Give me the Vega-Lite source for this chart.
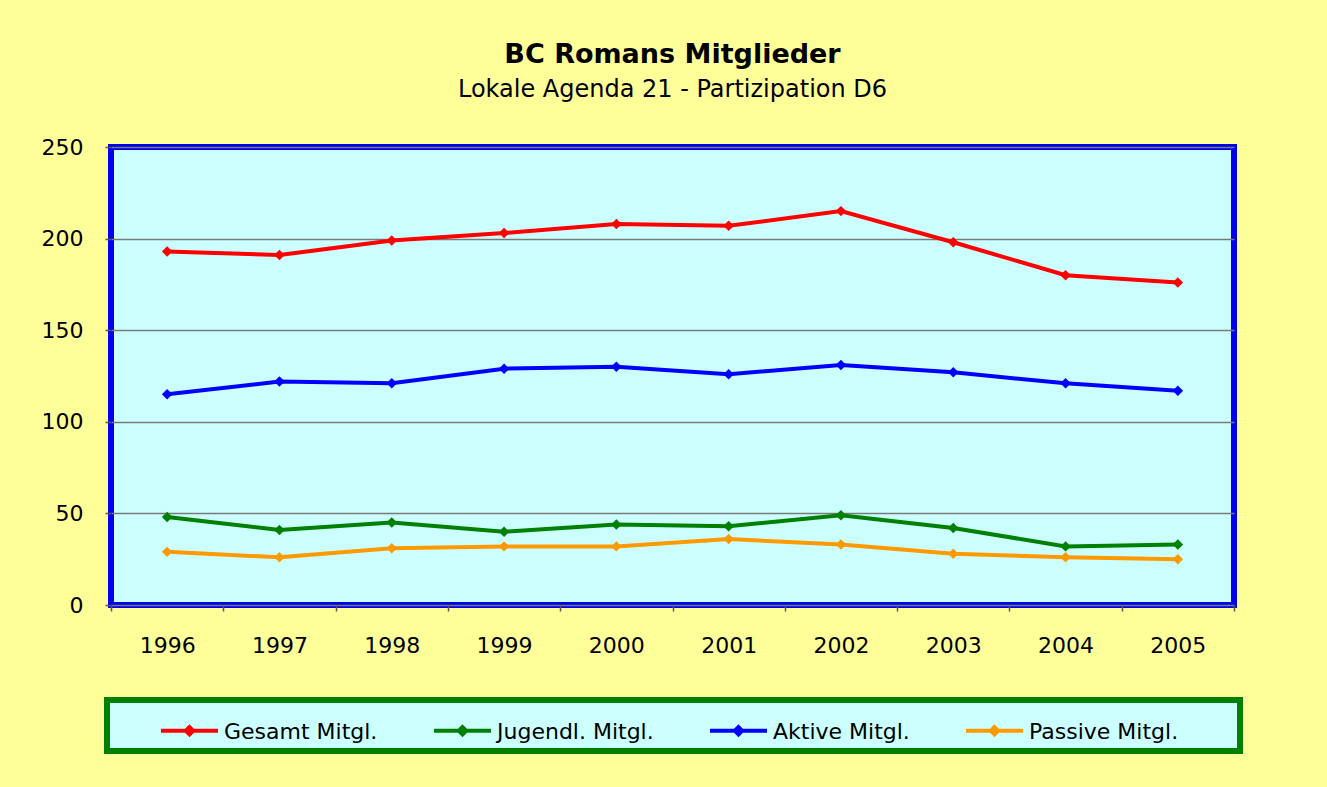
{
  "$schema": "https://vega.github.io/schema/vega-lite/v6.json",
  "autosize": {"type": "none"},
  "width": 1123,
  "height": 458,
  "padding": {"left": 111, "top": 147, "right": 93, "bottom": 182},
  "background": "#FFFF99",
  "title": {
    "text": "BC Romans Mitglieder",
    "subtitle": "Lokale Agenda 21 - Partizipation D6",
    "anchor": "middle",
    "font": "DejaVu Sans",
    "fontSize": 27,
    "fontWeight": "bold",
    "color": "#000000",
    "subtitleFont": "DejaVu Sans",
    "subtitleFontSize": 24,
    "subtitleColor": "#000000",
    "subtitlePadding": 9,
    "offset": 33
  },
  "config": {
    "view": {"fill": "#CCFFFF", "stroke": "#0000EE", "strokeWidth": 6},
    "axis": {
      "labelFont": "DejaVu Sans",
      "labelFontSize": 22,
      "labelColor": "#000000",
      "domain": false,
      "tickColor": "#555555",
      "tickWidth": 1.5,
      "tickSize": 6
    },
    "legend": {
      "labelFont": "DejaVu Sans",
      "labelFontSize": 22,
      "labelColor": "#000000",
      "strokeWidth": 6
    }
  },
  "data": {
    "values": [
      {"year": "1996", "series": "Gesamt Mitgl.", "value": 193},
      {"year": "1997", "series": "Gesamt Mitgl.", "value": 191},
      {"year": "1998", "series": "Gesamt Mitgl.", "value": 199},
      {"year": "1999", "series": "Gesamt Mitgl.", "value": 203},
      {"year": "2000", "series": "Gesamt Mitgl.", "value": 208},
      {"year": "2001", "series": "Gesamt Mitgl.", "value": 207},
      {"year": "2002", "series": "Gesamt Mitgl.", "value": 215},
      {"year": "2003", "series": "Gesamt Mitgl.", "value": 198},
      {"year": "2004", "series": "Gesamt Mitgl.", "value": 180},
      {"year": "2005", "series": "Gesamt Mitgl.", "value": 176},
      {"year": "1996", "series": "Jugendl. Mitgl.", "value": 48},
      {"year": "1997", "series": "Jugendl. Mitgl.", "value": 41},
      {"year": "1998", "series": "Jugendl. Mitgl.", "value": 45},
      {"year": "1999", "series": "Jugendl. Mitgl.", "value": 40},
      {"year": "2000", "series": "Jugendl. Mitgl.", "value": 44},
      {"year": "2001", "series": "Jugendl. Mitgl.", "value": 43},
      {"year": "2002", "series": "Jugendl. Mitgl.", "value": 49},
      {"year": "2003", "series": "Jugendl. Mitgl.", "value": 42},
      {"year": "2004", "series": "Jugendl. Mitgl.", "value": 32},
      {"year": "2005", "series": "Jugendl. Mitgl.", "value": 33},
      {"year": "1996", "series": "Aktive Mitgl.", "value": 115},
      {"year": "1997", "series": "Aktive Mitgl.", "value": 122},
      {"year": "1998", "series": "Aktive Mitgl.", "value": 121},
      {"year": "1999", "series": "Aktive Mitgl.", "value": 129},
      {"year": "2000", "series": "Aktive Mitgl.", "value": 130},
      {"year": "2001", "series": "Aktive Mitgl.", "value": 126},
      {"year": "2002", "series": "Aktive Mitgl.", "value": 131},
      {"year": "2003", "series": "Aktive Mitgl.", "value": 127},
      {"year": "2004", "series": "Aktive Mitgl.", "value": 121},
      {"year": "2005", "series": "Aktive Mitgl.", "value": 117},
      {"year": "1996", "series": "Passive Mitgl.", "value": 29},
      {"year": "1997", "series": "Passive Mitgl.", "value": 26},
      {"year": "1998", "series": "Passive Mitgl.", "value": 31},
      {"year": "1999", "series": "Passive Mitgl.", "value": 32},
      {"year": "2000", "series": "Passive Mitgl.", "value": 32},
      {"year": "2001", "series": "Passive Mitgl.", "value": 36},
      {"year": "2002", "series": "Passive Mitgl.", "value": 33},
      {"year": "2003", "series": "Passive Mitgl.", "value": 28},
      {"year": "2004", "series": "Passive Mitgl.", "value": 26},
      {"year": "2005", "series": "Passive Mitgl.", "value": 25}
    ]
  },
  "mark": {
    "type": "line",
    "strokeWidth": 4,
    "point": {"shape": "diamond", "size": 110, "filled": true}
  },
  "encoding": {
    "x": {
      "field": "year",
      "type": "ordinal",
      "title": null,
      "scale": {"paddingInner": 0, "paddingOuter": 0},
      "axis": {
        "labelAngle": 0,
        "labelPadding": 24,
        "tickBand": "extent",
        "grid": false
      }
    },
    "y": {
      "field": "value",
      "type": "quantitative",
      "title": null,
      "scale": {"domain": [0, 250]},
      "axis": {
        "values": [0, 50, 100, 150, 200, 250],
        "labelPadding": 22,
        "grid": true,
        "gridColor": "#7A7A7A",
        "gridWidth": 1.5
      }
    },
    "color": {
      "field": "series",
      "type": "nominal",
      "sort": ["Gesamt Mitgl.", "Jugendl. Mitgl.", "Aktive Mitgl.", "Passive Mitgl."],
      "scale": {
        "domain": ["Gesamt Mitgl.", "Jugendl. Mitgl.", "Aktive Mitgl.", "Passive Mitgl."],
        "range": ["#FF0000", "#008000", "#0000FF", "#FF9900"]
      },
      "legend": {
        "title": " ",
        "titleOrient": "right",
        "titlePadding": 54,
        "titleFontSize": 22,
        "orient": "none",
        "direction": "horizontal",
        "legendX": -4,
        "legendY": 553,
        "fillColor": "#CCFFFF",
        "strokeColor": "#008000",
        "padding": 8,
        "symbolType": "M-1,-0.28L1,-0.28M0,-0.41L0.13,-0.28L0,-0.15L-0.13,-0.28Z",
        "symbolSize": 3249,
        "symbolStrokeWidth": 4,
        "symbolOffset": 44,
        "labelOffset": 4,
        "labelBaseline": "alphabetic",
        "labelLimit": 300,
        "columnPadding": 10
      }
    }
  }
}
